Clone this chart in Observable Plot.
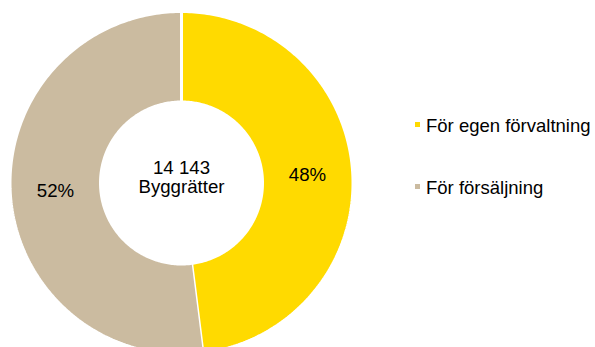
<!DOCTYPE html>
<html>
<head>
<meta charset="utf-8">
<script src="https://cdn.jsdelivr.net/npm/d3@7"></script>
<script src="https://cdn.jsdelivr.net/npm/@observablehq/plot@0.6"></script>
<style>
  html, body { margin: 0; padding: 0; background: #fff; }
  #wrap { position: relative; width: 595px; height: 347px; overflow: hidden;
          font-family: "Liberation Sans", Arial, sans-serif; color: #000; }
  .leg { position: absolute; font-size: 18.5px; line-height: 1; white-space: nowrap; }
  .sw { position: absolute; width: 5px; height: 5px; }
</style>
</head>
<body>
<div id="wrap"></div>
<script>
// ---- data ----
const categories = ["För egen förvaltning", "För försäljning"];
const shares = [48, 52];            // percent
const colors = ["#FFDA00", "#CBBBA0"];
const totalLabel = "14 143";
const centerLabel = "Byggrätter";

// ---- geometry (scale units = pixels around the centre) ----
const R = 171.5, r0 = 81;   // outer / inner polygon radii
const sum = d3.sum(shares);
let acc = 0;
const slices = categories.map((c, i) => {
  const a0 = acc / sum * 2 * Math.PI;
  acc += shares[i];
  const a1 = acc / sum * 2 * Math.PI;
  return {category: c, share: shares[i], a0, a1};
});
const pts = [];
for (const s of slices) {
  const n = 200;
  for (let k = 0; k <= n; k++) {
    const a = s.a0 + (s.a1 - s.a0) * k / n;
    pts.push({category: s.category, x: R * Math.sin(a), y: R * Math.cos(a)});
  }
  for (let k = n; k >= 0; k--) {
    const a = s.a0 + (s.a1 - s.a0) * k / n;
    pts.push({category: s.category, x: r0 * Math.sin(a), y: r0 * Math.cos(a)});
  }
}
const rm = (R + r0) / 2;
const labels = slices.map(s => {
  const a = (s.a0 + s.a1) / 2;
  return {text: s.share + "%", x: rm * Math.sin(a), y: rm * Math.cos(a)};
});

const cx = 181, cy = 182.5;
const chart = Plot.plot({
  width: 595,
  height: 347,
  margin: 0,
  style: {fontFamily: "Liberation Sans, Arial, sans-serif", background: "white"},
  x: {domain: [-R, R], range: [cx - R, cx + R], axis: null},
  y: {domain: [-R, R], range: [cy + R, cy - R], axis: null},
  color: {domain: categories, range: colors},
  marks: [
    Plot.line(pts, {x: "x", y: "y", z: "category", fill: "category",
                    stroke: "white", strokeWidth: 3, strokeLinejoin: "miter"}),
    Plot.text(labels, {x: "x", y: "y", text: "text", fontSize: 18.67, fill: "#000"}),
    Plot.text([totalLabel + "\n" + centerLabel], {x: () => 0, y: () => 0, text: d => d,
               fontSize: 18.67, lineHeight: 1.02, dy: -6, fill: "#000"})
  ]
});
const wrap = document.getElementById("wrap");
wrap.appendChild(chart);

// ---- legend ----
categories.forEach((c, i) => {
  const top = 117 + i * 61.6;
  const sw = document.createElement("div");
  sw.className = "sw";
  sw.style.background = colors[i];
  sw.style.left = "415px";
  sw.style.top = (top + 5.3) + "px";
  wrap.appendChild(sw);
  const t = document.createElement("div");
  t.className = "leg";
  t.textContent = c;
  t.style.left = "426px";
  t.style.top = top + "px";
  wrap.appendChild(t);
});
</script>
</body>
</html>
